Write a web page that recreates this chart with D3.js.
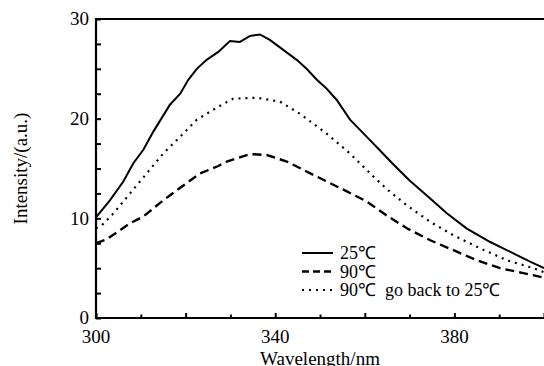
<!DOCTYPE html>
<html>
<head>
<meta charset="utf-8">
<script src="https://cdn.jsdelivr.net/npm/d3@7"></script>
<style>
  body { margin: 0; background: #fff; }
  text { font-family: "Liberation Serif", "Times New Roman", serif; fill: #000; }
</style>
</head>
<body>
<div id="chart"></div>
<script>
// emission spectra
const wl25 = [300, 303.1, 306.1, 308.3, 310.6, 312.8, 316.5, 318.8, 320.6, 322.5, 324.7, 327.3, 329.9, 332.1, 334.4, 336.6, 338.8, 341.8, 344.8, 347, 349.3, 351.5, 353.7, 356.7, 360.4, 363.4, 366.4, 370, 374.6, 378.3, 382.7, 387.9, 392.4, 396.9, 400];
const int25 = [10.1, 11.8, 13.7, 15.5, 16.9, 18.7, 21.4, 22.5, 23.9, 25.0, 25.9, 26.7, 27.8, 27.7, 28.3, 28.45, 27.9, 26.9, 25.9, 25.0, 23.9, 23.0, 21.9, 19.9, 18.2, 16.8, 15.4, 13.8, 12.0, 10.5, 9.0, 7.65, 6.65, 5.65, 5.0];

const wl90 = [300, 302.4, 307.6, 310.6, 315, 318, 323.2, 327.3, 329.2, 334.4, 338.1, 342.6, 347, 351.5, 356, 360.4, 364.5, 369.4, 374.6, 379.8, 385, 390.2, 395.4, 400];
const int90 = [7.5, 7.9, 9.5, 10.2, 11.8, 12.8, 14.5, 15.25, 15.7, 16.45, 16.35, 15.7, 14.7, 13.7, 12.7, 11.7, 10.4, 9.0, 7.8, 6.8, 5.8, 5.0, 4.5, 4.05];

const wlBack = [300, 301.3, 303.9, 307.6, 311.3, 315, 318.8, 322.5, 327.3, 330.6, 335.9, 341.1, 345.5, 351.5, 356.7, 361.9, 365, 369.4, 374.6, 379.8, 385.7, 391.7, 397.6, 400];
const intBack = [9.0, 9.3, 10.5, 12.5, 14.5, 16.5, 18.2, 19.9, 21.2, 22.0, 22.1, 21.7, 20.5, 18.5, 16.5, 14.2, 12.9, 11.3, 9.65, 8.3, 7.0, 5.8, 5.0, 4.6];

const xMajor = [300, 320, 340, 360, 380, 400];
const xMinor = [310, 330, 350, 370, 390];
const xLabels = [300, 340, 380];
const yTicks = [0, 2.5, 5, 7.5, 10, 12.5, 15, 17.5, 20, 22.5, 25, 27.5, 30];
const yLabels = [0, 10, 20, 30];

const legendNames = ["25\u2103", "90\u2103", "90\u2103  go back to 25\u2103"];

const width = 544, height = 366;
const margin = { top: 19, right: 0, bottom: 48, left: 96 };
const w = width - margin.left - margin.right;
const h = height - margin.top - margin.bottom;

const x = d3.scaleLinear().domain([300, 400]).range([0, w]);
const y = d3.scaleLinear().domain([0, 30]).range([h, 0]);

const svg = d3.select("#chart").append("svg")
  .attr("width", width).attr("height", height);

const g = svg.append("g")
  .attr("transform", "translate(" + margin.left + "," + margin.top + ")");

svg.append("clipPath").attr("id", "clip")
  .append("rect").attr("x", 0).attr("y", 0).attr("width", w).attr("height", h);

// curves
const series = [
  { wl: wl25, v: int25, dash: null, sw: 2 },
  { wl: wl90, v: int90, dash: "9,5", sw: 2.4 },
  { wl: wlBack, v: intBack, dash: "2,5", sw: 2.2 }
];

const line = d3.line()
  .x((d) => x(d[0]))
  .y((d) => y(d[1]));

g.append("g").attr("clip-path", "url(#clip)")
  .selectAll("path")
  .data(series)
  .enter()
  .append("path")
  .attr("fill", "none")
  .attr("stroke", "#000")
  .attr("stroke-width", (d) => d.sw)
  .attr("stroke-dasharray", (d) => d.dash)
  .attr("d", (d) => line(d.wl.map((t, i) => [t, d.v[i]])));

// x axis with inward ticks
const xAxis = d3.axisBottom(x).tickValues(xMajor).tickSize(-5).tickFormat("");
g.append("g").attr("transform", "translate(0," + h + ")").call(xAxis);
g.append("g").attr("transform", "translate(0," + h + ")")
  .call(d3.axisBottom(x).tickValues(xMinor).tickSize(-3.5).tickFormat(""));
g.selectAll(".domain").remove();

g.selectAll(".xlab")
  .data(xLabels)
  .enter()
  .append("text")
  .attr("class", "xlab")
  .attr("x", (d) => x(d))
  .attr("y", h + 25)
  .attr("text-anchor", "middle")
  .style("font-size", "19px")
  .text((d) => d);

// y axis
const yAxis = d3.axisLeft(y).tickValues(yTicks).tickSize(-5).tickFormat("");
g.append("g").attr("class", "yaxis").call(yAxis);
g.select(".yaxis .domain").remove();

g.selectAll(".ylab")
  .data(yLabels)
  .enter()
  .append("text")
  .attr("class", "ylab")
  .attr("x", -7)
  .attr("y", (d) => y(d))
  .attr("dy", "0.34em")
  .attr("text-anchor", "end")
  .style("font-size", "19px")
  .text((d) => d);

g.selectAll(".tick line").attr("stroke", "#000").attr("stroke-width", 2);

// frame: left, bottom, top
g.append("path")
  .attr("fill", "none")
  .attr("stroke", "#000")
  .attr("stroke-width", 2.2)
  .attr("d", "M" + w + ",0H0V" + h + "H" + w);

// axis titles
svg.append("text")
  .attr("x", margin.left + w / 2)
  .attr("y", 365)
  .attr("text-anchor", "middle")
  .style("font-size", "19px")
  .text("Wavelength/nm");

svg.append("text")
  .attr("transform", "translate(27," + (margin.top + h / 2) + ") rotate(-90)")
  .attr("text-anchor", "middle")
  .style("font-size", "19px")
  .text("Intensity/(a.u.)");

// legend
const legend = g.append("g").attr("transform", "translate(" + (302 - margin.left) + "," + (253 - margin.top) + ")");
const rows = legend.selectAll("g")
  .data(series)
  .enter()
  .append("g")
  .attr("transform", (d, i) => "translate(0," + i * 18.5 + ")");

rows.append("line")
  .attr("x1", 0).attr("x2", 31)
  .attr("y1", 0).attr("y2", 0)
  .attr("stroke", "#000")
  .attr("stroke-width", (d) => d.sw)
  .attr("stroke-dasharray", (d, i) => (i === 1 ? "7,4" : d.dash));

rows.append("text")
  .attr("x", 38)
  .attr("y", 0)
  .attr("dy", "0.35em")
  .style("font-size", "18px")
  .style("white-space", "pre")
  .attr("xml:space", "preserve")
  .text((d, i) => legendNames[i]);
</script>
</body>
</html>
